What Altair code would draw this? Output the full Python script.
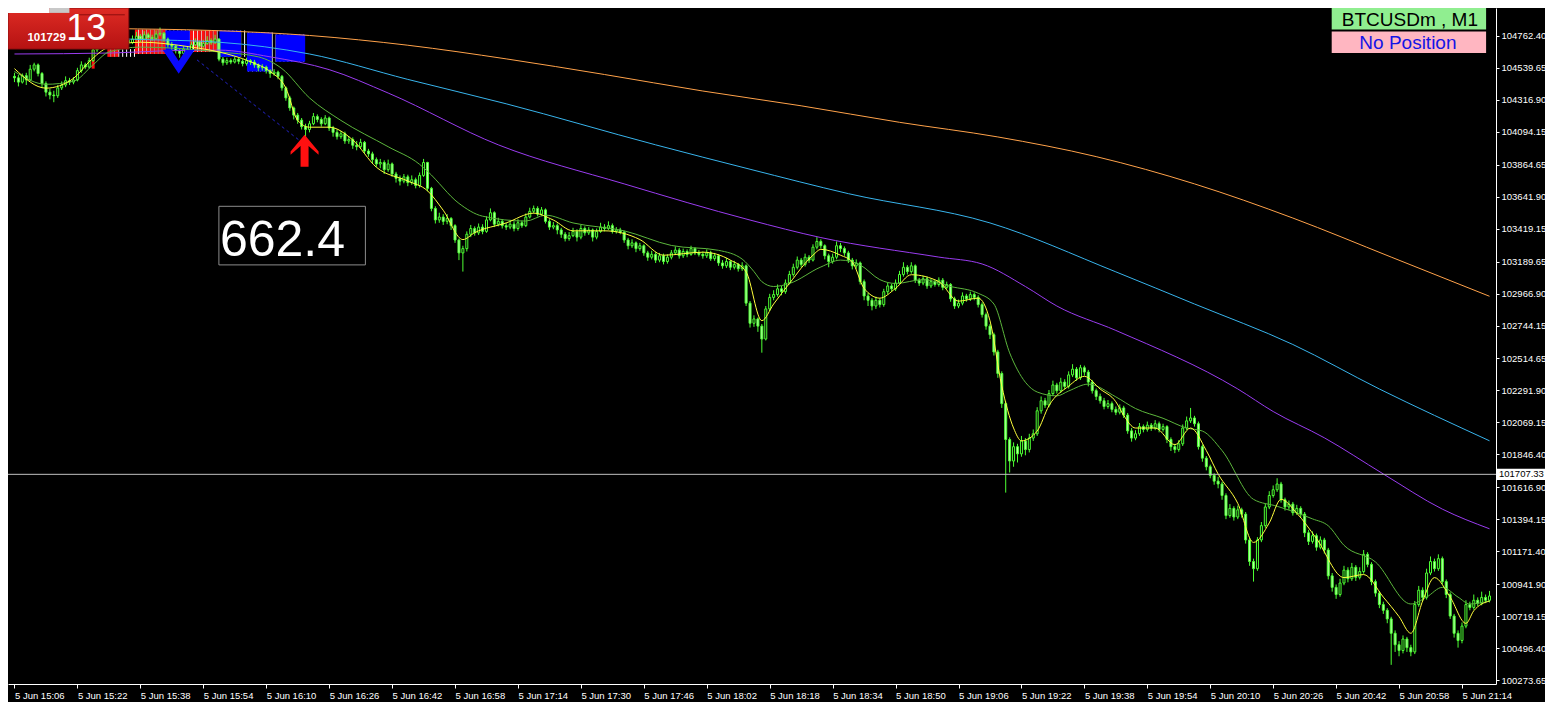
import json
import altair as alt
import pandas as pd

# ---------------- data ----------------
opens = [104480,104470,104440,104485,104455,104530,104560,104500,104430,104370,
104350,104345,104400,104420,104450,104440,104455,104520,104560,104545,
104590,104665,104690,104700,104685,104710,104695,104720,104705,104730,
104715,104740,104760,104740,104770,104750,104745,104775,104780,104740,
104700,104690,104660,104640,104670,104650,104700,104720,104690,104710,
104730,104715,104740,104600,104575,104590,104580,104600,104585,104570,
104590,104580,104560,104540,104545,104520,104500,104510,104480,104400,
104330,104260,104210,104175,104130,104110,104150,104200,104180,104150,
104190,104120,104090,104060,104080,104030,104040,104000,103990,104020,
103960,103940,103900,103870,103880,103830,103870,103800,103770,103750,
103780,103740,103760,103720,103790,103880,103700,103560,103480,103500,
103470,103490,103440,103340,103250,103280,103380,103420,103390,103430,
103400,103480,103530,103450,103470,103440,103430,103450,103420,103460,
103440,103500,103540,103560,103520,103550,103470,103430,103440,103410,
103380,103350,103370,103400,103360,103420,103390,103410,103360,103400,
103430,103420,103440,103400,103410,103395,103340,103300,103320,103280,
103300,103250,103220,103240,103200,103230,103190,103220,103250,103270,
103230,103260,103240,103280,103250,103240,103230,103250,103210,103230,
103180,103160,103190,103150,103170,103140,103160,102900,102760,102790,
102740,102650,102860,102940,102960,103000,102980,103040,103100,103150,
103200,103170,103220,103200,103290,103330,103300,103230,103190,103220,
103300,103280,103250,103200,103160,103180,103050,102950,102920,102880,
102920,102890,102980,103020,103000,103040,103100,103150,103120,103160,
103060,103040,103070,103020,103050,103030,103060,103010,103030,102930,
102880,102900,102950,102930,102960,102940,102890,102820,102740,102680,
102560,102410,102200,101950,101800,101900,101850,101940,101880,101960,
101990,102150,102220,102190,102270,102330,102290,102350,102320,102400,
102440,102380,102450,102420,102350,102290,102250,102220,102180,102200,
102160,102140,102170,102120,102010,101960,101990,102040,102020,102050,
102030,102060,102020,102040,101950,101900,101880,101920,102030,102080,
102100,102060,101900,101820,101760,101700,101660,101640,101560,101420,
101470,101410,101460,101430,101250,101100,101050,101250,101350,101480,
101560,101600,101640,101530,101480,101500,101440,101470,101430,101300,
101240,101280,101200,101250,101180,101000,100920,100870,100950,101040,
100980,101060,100990,101030,101150,101080,100960,100880,100800,100760,
100700,100600,100520,100480,100560,100500,100470,100800,100900,100850,
101020,101100,101050,101120,100960,100870,100720,100600,100550,100650,
100800,100780,100830,100810,100850,100830]

highs = [104505,104490,104500,104505,104560,104575,104570,104510,104445,104395,
104380,104420,104445,104480,104470,104475,104540,104585,104575,104610,
104690,104710,104725,104720,104730,104725,104740,104735,104750,104745,
104765,104790,104775,104795,104785,104770,104800,104820,104790,104750,
104720,104700,104675,104690,104685,104720,104745,104730,104735,104760,
104745,104770,104745,104615,104610,104605,104620,104610,104600,104610,
104600,104595,104570,104565,104555,104530,104530,104520,104490,104410,
104345,104270,104225,104190,104150,104170,104225,104215,104195,104210,
104200,104135,104110,104100,104095,104065,104055,104030,104045,104030,
103975,103955,103915,103905,103895,103900,103880,103815,103790,103800,
103795,103790,103775,103810,103905,103885,103710,103575,103530,103520,
103520,103500,103450,103350,103300,103400,103445,103435,103455,103450,
103505,103560,103540,103495,103485,103460,103480,103470,103485,103475,
103525,103565,103580,103575,103570,103560,103485,103465,103455,103425,
103395,103395,103425,103415,103445,103435,103430,103420,103420,103460,
103450,103470,103455,103430,103425,103405,103355,103345,103330,103320,
103310,103265,103265,103255,103250,103245,103240,103270,103295,103285,
103280,103275,103300,103290,103270,103260,103275,103265,103250,103240,
103200,103215,103200,103195,103180,103185,103170,102915,102815,102800,
102755,102880,102965,102990,103030,103020,103065,103125,103175,103225,
103215,103245,103235,103310,103360,103345,103310,103245,103245,103330,
103320,103295,103265,103215,103205,103190,103065,102970,102935,102945,
102935,103000,103045,103035,103065,103125,103185,103165,103185,103170,
103075,103090,103085,103070,103065,103080,103075,103050,103040,102945,
102925,102975,102965,102980,102975,102955,102905,102835,102755,102695,
102575,102425,102215,101965,101930,101920,101975,101960,101990,102020,
102175,102250,102240,102295,102360,102345,102380,102370,102425,102475,
102455,102470,102465,102435,102365,102305,102270,102240,102225,102215,
102180,102195,102185,102135,102030,102015,102065,102055,102075,102065,
102085,102075,102060,102050,101965,101920,101945,102055,102110,102170,
102115,102075,101915,101835,101775,101715,101690,101655,101575,101500,
101485,101490,101475,101445,101265,101120,101270,101375,101505,101590,
101630,101680,101655,101545,101525,101515,101495,101485,101445,101320,
101310,101295,101275,101265,101195,101020,100940,100980,101070,101060,
101090,101075,101060,101180,101165,101095,100975,100895,100820,100775,
100715,100620,100545,100585,100575,100520,100825,100930,100920,101050,
101135,101120,101150,101135,100975,100885,100735,100620,100675,100830,
100820,100870,100850,100890,100870,100895]

lows = [104440,104410,104430,104420,104445,104515,104480,104400,104340,104320,
104300,104330,104385,104405,104420,104425,104445,104505,104530,104535,
104580,104650,104675,104670,104670,104680,104685,104690,104695,104700,
104705,104730,104720,104730,104735,104725,104735,104760,104720,104680,
104665,104640,104610,104625,104630,104640,104690,104670,104680,104700,
104700,104705,104585,104555,104560,104565,104570,104565,104550,104555,
104560,104540,104515,104520,104500,104470,104485,104460,104380,104310,
104240,104180,104150,104110,103960,104090,104140,104160,104130,104140,
104100,104060,104040,104045,104010,104010,103975,103965,103975,103940,
103920,103875,103850,103840,103800,103815,103780,103740,103720,103735,
103715,103725,103700,103705,103780,103680,103540,103455,103460,103445,
103450,103410,103320,103200,103120,103260,103360,103370,103375,103380,
103390,103470,103430,103435,103420,103410,103415,103400,103405,103425,
103430,103490,103525,103505,103510,103455,103410,103415,103380,103355,
103330,103335,103360,103330,103345,103370,103375,103330,103345,103390,
103400,103410,103385,103385,103380,103320,103275,103285,103255,103265,
103230,103195,103205,103180,103185,103170,103175,103205,103235,103210,
103215,103220,103230,103235,103225,103210,103215,103195,103195,103160,
103140,103145,103130,103135,103120,103125,102880,102730,102735,102700,
102555,102640,102845,102920,102945,102955,102965,103030,103085,103135,
103150,103155,103180,103190,103275,103280,103205,103150,103175,103205,
103255,103230,103180,103135,103140,103030,102920,102880,102850,102860,
102870,102875,102960,102980,102985,103030,103085,103100,103105,103040,
103020,103025,103000,103005,103015,103015,102990,102995,102910,102860,
102865,102885,102910,102915,102920,102870,102800,102715,102650,102535,
102380,102170,101580,101720,101760,101790,101830,101840,101860,101940,
101975,102130,102170,102175,102255,102270,102275,102300,102305,102385,
102360,102365,102395,102320,102270,102225,102200,102160,102165,102140,
102120,102125,102100,101990,101935,101945,101975,102000,102005,102010,
102015,102000,102005,101925,101870,101855,101865,101905,102015,102065,
102040,101880,101795,101735,101680,101635,101610,101530,101395,101405,
101385,101395,101405,101225,101070,100960,101035,101235,101335,101465,
101545,101585,101510,101455,101460,101420,101425,101405,101270,101215,
101225,101175,101185,101155,100975,100890,100840,100855,100935,100955,
100965,100965,100975,101015,101060,100935,100855,100775,100735,100670,
100380,100470,100440,100460,100470,100440,100455,100785,100825,100835,
101005,101030,101035,100940,100845,100700,100570,100500,100530,100635,
100760,100765,100790,100795,100810,100815]

closes = [104470,104440,104485,104455,104530,104560,104500,104430,104370,104350,
104345,104400,104420,104450,104440,104455,104520,104560,104545,104590,
104665,104690,104700,104685,104710,104695,104720,104705,104730,104715,
104740,104760,104740,104770,104750,104745,104775,104780,104740,104700,
104690,104660,104640,104670,104650,104700,104720,104690,104710,104730,
104715,104740,104600,104575,104590,104580,104600,104585,104570,104590,
104580,104560,104540,104545,104520,104500,104510,104480,104400,104330,
104260,104210,104175,104130,104110,104150,104200,104180,104150,104190,
104120,104090,104060,104080,104030,104040,104000,103990,104020,103960,
103940,103900,103870,103880,103830,103870,103800,103770,103750,103780,
103740,103760,103720,103790,103880,103700,103560,103480,103500,103470,
103490,103440,103340,103250,103280,103380,103420,103390,103430,103400,
103480,103530,103450,103470,103440,103430,103450,103420,103460,103440,
103500,103540,103560,103520,103550,103470,103430,103440,103410,103380,
103350,103370,103400,103360,103420,103390,103410,103360,103400,103430,
103420,103440,103400,103410,103395,103340,103300,103320,103280,103300,
103250,103220,103240,103200,103230,103190,103220,103250,103270,103230,
103260,103240,103280,103250,103240,103230,103250,103210,103230,103180,
103160,103190,103150,103170,103140,103160,102900,102760,102790,102740,
102650,102860,102940,102960,103000,102980,103040,103100,103150,103200,
103170,103220,103200,103290,103330,103300,103230,103190,103220,103300,
103280,103250,103200,103160,103180,103050,102950,102920,102880,102920,
102890,102980,103020,103000,103040,103100,103150,103120,103160,103060,
103040,103070,103020,103050,103030,103060,103010,103030,102930,102880,
102900,102950,102930,102960,102940,102890,102820,102740,102680,102560,
102410,102200,101950,101800,101900,101850,101940,101880,101960,101990,
102150,102220,102190,102270,102330,102290,102350,102320,102400,102440,
102380,102450,102420,102350,102290,102250,102220,102180,102200,102160,
102140,102170,102120,102010,101960,101990,102040,102020,102050,102030,
102060,102020,102040,101950,101900,101880,101920,102030,102080,102100,
102060,101900,101820,101760,101700,101660,101640,101560,101420,101470,
101410,101460,101430,101250,101100,101050,101250,101350,101480,101560,
101600,101640,101530,101480,101500,101440,101470,101430,101300,101240,
101280,101200,101250,101180,101000,100920,100870,100950,101040,100980,
101060,100990,101030,101150,101080,100960,100880,100800,100760,100700,
100600,100520,100480,100560,100500,100470,100800,100900,100850,101020,
101100,101050,101120,100960,100870,100720,100600,100550,100650,100800,
100780,100830,100810,100850,100830,100860]

# moving averages (minute index from 15:06, price)
orange_m = [0, 25, 50, 75, 100, 125, 150, 175, 200, 225, 250, 275, 300, 325, 350, 375]
orange_p = [104820, 104813, 104800, 104765, 104697, 104602, 104493, 104378, 104275,
            104160, 104058, 103921, 103731, 103493, 103221, 102948]
cyan_m = [0, 31, 52, 75, 100, 125, 163, 187, 212, 248, 280, 300, 325, 347, 375]
cyan_p = [104765, 104738, 104718, 104636, 104459, 104289, 104003, 103833, 103663,
          103459, 103118, 102894, 102612, 102302, 101941]
purple_m = [0, 25, 37, 52, 65, 80, 95, 123, 155, 187, 205, 235, 246, 257, 265,
            280, 311, 320, 333, 348, 363, 375]
purple_p = [104636, 104643, 104657, 104663, 104616, 104527, 104364, 104003, 103731,
            103479, 103357, 103221, 103173, 103016, 102880, 102710, 102302,
            102145, 101962, 101710, 101465, 101328]
green_m = [0, 8, 15, 20, 24, 32, 52, 62, 68, 75, 83, 95, 103, 105, 113, 119, 130, 135,
           142, 155, 167, 179, 185, 188, 190, 193, 197, 205, 210, 215, 220, 224, 231,
           238, 245, 249, 253, 257, 260, 265, 268, 273, 280, 285, 292, 298, 302, 307,
           315, 321, 330, 334, 338, 346, 355, 359, 363, 367, 370, 375]
green_p = [104514, 104425, 104446, 104561, 104650, 104684, 104650, 104616, 104534,
           104330, 104173, 103990, 103867, 103819, 103595, 103506, 103472, 103513,
           103459, 103404, 103302, 103268, 103207, 103120, 103050, 103016, 103037,
           103152, 103200, 103166, 103064, 103037, 103064, 103016, 102969, 102894,
           102554, 102349, 102281, 102254, 102288, 102336, 102247, 102166, 102098,
           102030, 102009, 101873, 101533, 101485, 101397, 101349, 101213, 101097,
           100804, 100852, 100920, 100852, 100804, 100825]
yellow_m = [0, 8, 15, 19, 24, 32, 45, 52, 60, 65, 69, 72, 75, 80, 86, 92, 100, 105,
            109, 114, 117, 125, 132, 137, 142, 150, 159, 165, 175, 182, 186, 190, 193,
            197, 203, 205, 210, 213, 216, 220, 224, 228, 235, 240, 245, 248, 251, 254,
            256, 260, 263, 268, 272, 276, 280, 282, 285, 290, 295, 299, 303, 306, 311,
            315, 319, 322, 326, 331, 338, 343, 348, 352, 355, 358, 361, 365, 369, 371, 375]
yellow_p = [104534, 104398, 104466, 104582, 104684, 104718, 104684, 104650, 104582,
            104514, 104398, 104173, 104126, 104126, 104037, 103847, 103751, 103683,
            103547, 103343, 103391, 103459, 103527, 103479, 103404, 103404, 103343,
            103234, 103255, 103200, 103118, 102778, 102894, 103037, 103234, 103275,
            103234, 103187, 103003, 102935, 103003, 103098, 103050, 102914, 102935,
            102778, 102322, 102030, 101941, 102009, 102186, 102322, 102390, 102302,
            102213, 102118, 102030, 102030, 101914, 102030, 101873, 101710, 101505,
            101233, 101369, 101533, 101437, 101260, 100988, 101009, 100852, 100716,
            100600, 100825, 100988, 100852, 100669, 100757, 100825]

# trend-zone indicator at the top-left
zone_m = list(range(24, 74))
zone_hi = [104670] * 7 + [104806] * 8 + [104800] * 6 + [104800] * 7 + [104800] * 7 + \
          [104786] * 7 + [104772] * 8
zone_lo = [104616] * 7 + [104636] * 8 + [104663] * 6 + [104650] * 7 + [104616] * 7 + \
          [104514] * 7 + [104582] * 8
red_m = [20, 24, 25, 26, 31, 32, 33, 34, 35, 36, 37, 38, 45, 46, 47, 48, 49, 50, 51]
red_hi = [104663, 104670, 104670, 104670] + [104806] * 8 + [104800] * 7
red_lo = [104534, 104616, 104616, 104616] + [104636] * 8 + [104650] * 7
blue_start = [38.4, 52.1, 59.1, 66.4]
blue_end = [44.6, 57.6, 65.4, 73.9]
blue_hi = [104800, 104800, 104786, 104772]
blue_lo = [104663, 104616, 104514, 104582]
dash_m = [46.4, 72.9]
dash_p = [104595, 104024]
sell_arrow = (41.75, 104582)
buy_arrow = (73.75, 103962)
line_price = 101707.33

y_ticks = [104762.40, 104539.65, 104316.90, 104094.15, 103864.65, 103641.90, 103419.15,
           103189.65, 102966.90, 102744.15, 102514.65, 102291.90, 102069.15, 101846.40,
           101616.90, 101394.15, 101171.40, 100941.90, 100719.15, 100496.40, 100273.65]
time_ticks = list(range(0, 369, 16))
time_labels = ["5 Jun 15:06", "5 Jun 15:22", "5 Jun 15:38", "5 Jun 15:54", "5 Jun 16:10",
               "5 Jun 16:26", "5 Jun 16:42", "5 Jun 16:58", "5 Jun 17:14", "5 Jun 17:30",
               "5 Jun 17:46", "5 Jun 18:02", "5 Jun 18:18", "5 Jun 18:34", "5 Jun 18:50",
               "5 Jun 19:06", "5 Jun 19:22", "5 Jun 19:38", "5 Jun 19:54", "5 Jun 20:10",
               "5 Jun 20:26", "5 Jun 20:42", "5 Jun 20:58", "5 Jun 21:14"]

# ---------------- layout ----------------
FONT = "Liberation Sans"
CANDLE = "#4dff33"
W, H = 1488, 676
SX, SY = W / 1503, H / 692


def px(v):
    return round(v * SX, 1)


def py(v):
    return round(v * SY, 1)


x_scale = alt.Scale(domain=[-0.375, 375.375], nice=False, zero=False)
y_scale = alt.Scale(domain=[100246.6, 104956.4], nice=False, zero=False)

x_axis = alt.Axis(orient="bottom", values=time_ticks, title=None, grid=False,
                  labelExpr=json.dumps(time_labels) + "[round(datum.value / 16)]",
                  domainColor="#ffffff", tickColor="#ffffff", labelColor="#ffffff",
                  tickSize=4, labelPadding=2, labelAlign="left", labelBaseline="top",
                  labelFont=FONT, labelFontSize=9.5, labelFlush=False,
                  labelOverlap=False, labelBound=False)
y_axis = alt.Axis(orient="right", values=y_ticks, format=".2f", title=None, grid=False,
                  domainColor="#ffffff", tickColor="#ffffff", labelColor="#ffffff",
                  tickSize=3, labelPadding=2, labelAlign="left", labelBaseline="middle",
                  labelFont=FONT, labelFontSize=9.5, labelOverlap=False, labelBound=False)


def X(f):
    return alt.X(f, type="quantitative", scale=x_scale, axis=x_axis)


def Y(f):
    return alt.Y(f, type="quantitative", scale=y_scale, axis=y_axis)


n = min(len(opens), len(highs), len(lows), len(closes))
candles = pd.DataFrame({"m": list(range(n)), "o": opens[:n], "h": highs[:n],
                        "l": lows[:n], "c": closes[:n]})

zone_df = pd.DataFrame({"m": zone_m, "hi": zone_hi, "lo": zone_lo})
red_df = pd.DataFrame({"m": red_m, "hi": red_hi, "lo": red_lo})
blue_df = pd.DataFrame({"s": blue_start, "e": blue_end, "hi": blue_hi, "lo": blue_lo})
one = pd.DataFrame({"k": [0]})

layers = []
layers.append(alt.Chart(zone_df).mark_rule(color="#ffffff", strokeWidth=1, xOffset=2)
              .encode(x=X("m"), y=Y("lo"), y2=alt.Y2("hi")))
layers.append(alt.Chart(red_df).mark_bar(size=3, color="#ff1010")
              .encode(x=X("m"), y=Y("lo"), y2=alt.Y2("hi")))
layers.append(alt.Chart(blue_df).mark_rect(color="#0000ff")
              .encode(x=X("s"), x2=alt.X2("e"), y=Y("hi"), y2=alt.Y2("lo")))

# candles
layers.append(alt.Chart(candles).mark_rule(color=CANDLE, strokeWidth=1)
              .encode(x=X("m"), y=Y("l"), y2=alt.Y2("h")))
layers.append(alt.Chart(candles).mark_bar(size=2, stroke=CANDLE, strokeWidth=1)
              .encode(x=X("m"), y=Y("o"), y2=alt.Y2("c"),
                      fill=alt.condition("datum.c >= datum.o", alt.value("#000000"),
                                         alt.value("#b8ffa8"))))

for mm, pp, col in [(orange_m, orange_p, "#ffa24a"), (cyan_m, cyan_p, "#38b4ec"),
                    (purple_m, purple_p, "#9a3cf0"), (green_m, green_p, "#5cb63c"),
                    (yellow_m, yellow_p, "#ffff3c")]:
    layers.append(alt.Chart(pd.DataFrame({"m": mm, "p": pp}))
                  .mark_line(color=col, strokeWidth=1, interpolate="monotone")
                  .encode(x=X("m"), y=Y("p")))

layers.append(alt.Chart(pd.DataFrame({"m": dash_m, "p": dash_p}))
              .mark_line(color="#2424c8", strokeWidth=1, strokeDash=[3, 3])
              .encode(x=X("m"), y=Y("p")))

layers.append(alt.Chart(pd.DataFrame({"p": [line_price]}))
              .mark_rule(color="#c0c0c0", strokeWidth=1).encode(y=Y("p")))

chevron = "M-1,-0.75L0,0.75L1,-0.75L0.45,-0.75L0,-0.05L-0.45,-0.75Z"
up_arrow = ("M0,-1L0.875,0.05L0.875,0.25L0.25,-0.3L0.25,1L-0.25,1L-0.25,-0.3"
            "L-0.875,0.25L-0.875,0.05Z")
layers.append(alt.Chart(pd.DataFrame({"m": [sell_arrow[0]], "p": [sell_arrow[1]]}))
              .mark_point(shape=chevron, size=1024, filled=True, color="#0a0aff",
                          opacity=1, strokeWidth=0)
              .encode(x=X("m"), y=Y("p")))
layers.append(alt.Chart(pd.DataFrame({"m": [buy_arrow[0]], "p": [buy_arrow[1]]}))
              .mark_point(shape=up_arrow, size=1024, filled=True, color="#ff1010",
                          opacity=1, strokeWidth=0)
              .encode(x=X("m"), y=Y("p")))

# price label on the axis
layers.append(alt.Chart(pd.DataFrame({"p": [line_price]}))
              .mark_point(shape="M-1,-0.23L1,-0.23L1,0.23L-1,0.23Z", size=2401,
                          filled=True, color="#ffffff", opacity=1, strokeWidth=0)
              .encode(x=alt.value(W + 24.5), y=Y("p")))
layers.append(alt.Chart(pd.DataFrame({"p": [line_price]}))
              .mark_text(text="101707.33", align="left", baseline="middle", font=FONT,
                         fontSize=9.5, color="#000000")
              .encode(x=alt.value(W + 3), y=Y("p")))

# value box "662.4"
layers.append(alt.Chart(one).mark_rect(fill="#000000", stroke="#8c8c8c", strokeWidth=1)
              .encode(x=alt.value(px(213)), x2=alt.value(px(361)),
                      y=alt.value(py(203)), y2=alt.value(py(263))))
layers.append(alt.Chart(one).mark_text(text="662.4", align="left", baseline="alphabetic",
                                       font=FONT, fontSize=50, color="#ffffff")
              .encode(x=alt.value(px(214)), y=alt.value(py(254))))

# red panel top-left
red_grad = alt.LinearGradient(gradient="linear", x1=0, x2=0, y1=0, y2=1,
                              stops=[alt.GradientStop(color="#de2b24", offset=0),
                                     alt.GradientStop(color="#b51212", offset=1)])
layers.append(alt.Chart(one).mark_rect(color=red_grad, stroke="#8e0e0e", strokeWidth=1)
              .encode(x=alt.value(0), x2=alt.value(px(122)),
                      y=alt.value(0), y2=alt.value(py(42))))
layers.append(alt.Chart(one).mark_rule(color="#8e0e0e", strokeWidth=1)
              .encode(x=alt.value(px(67)), x2=alt.value(px(118)),
                      y=alt.value(py(7))))
layers.append(alt.Chart(one).mark_rect(color="#ffffff")
              .encode(x=alt.value(0), x2=alt.value(px(42)),
                      y=alt.value(0), y2=alt.value(py(5))))
layers.append(alt.Chart(one).mark_rect(color="#c8c8c8")
              .encode(x=alt.value(px(42)), x2=alt.value(px(62)),
                      y=alt.value(0), y2=alt.value(py(5))))
layers.append(alt.Chart(one).mark_text(text="101729", align="center", baseline="middle",
                                       font=FONT, fontSize=11.5, fontWeight="bold",
                                       color="#ffffff")
              .encode(x=alt.value(px(39)), y=alt.value(py(31))))
layers.append(alt.Chart(one).mark_text(text="13", align="center", baseline="middle",
                                       font=FONT, fontSize=36, color="#ffffff")
              .encode(x=alt.value(px(79)), y=alt.value(py(21))))

# symbol / position boxes top-right
layers.append(alt.Chart(one).mark_rect(color="#90ee90")
              .encode(x=alt.value(px(1337)), x2=alt.value(px(1493)),
                      y=alt.value(0), y2=alt.value(py(22))))
layers.append(alt.Chart(one).mark_rect(color="#ffb6c1")
              .encode(x=alt.value(px(1337)), x2=alt.value(px(1493)),
                      y=alt.value(py(24)), y2=alt.value(py(46))))
layers.append(alt.Chart(one).mark_text(text="BTCUSDm , M1", align="center",
                                       baseline="middle", font=FONT, fontSize=19,
                                       color="#000000")
              .encode(x=alt.value(px(1416)), y=alt.value(py(12))))
layers.append(alt.Chart(one).mark_text(text="No Position", align="center",
                                       baseline="middle", font=FONT, fontSize=19,
                                       color="#1414e6")
              .encode(x=alt.value(px(1414)), y=alt.value(py(36))))

chart = alt.layer(*layers).properties(
    width=W, height=H,
    padding={"left": 0, "top": 0, "right": 49, "bottom": 18},
    autosize=alt.AutoSizeParams(type="none"),
    background="#000000",
).configure_view(strokeWidth=0, stroke="transparent")

chart.save("out.html", embed_options={"renderer": "svg", "actions": False})
